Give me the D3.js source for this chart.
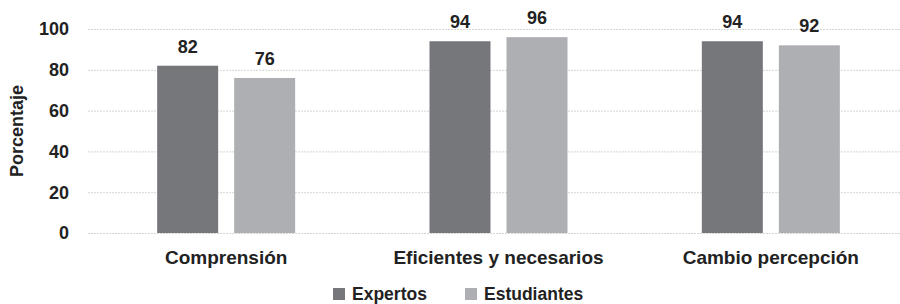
<!DOCTYPE html>
<html>
<head>
<meta charset="utf-8">
<script src="https://cdn.jsdelivr.net/npm/d3@7"></script>
<style>
  body { margin: 0; background: #fff; }
  text { font-family: "Liberation Sans", Arial, sans-serif; font-weight: bold; fill: #222; }
</style>
</head>
<body>
<div id="chart"></div>
<script>
// Chart data
const categories = ["Comprensión", "Eficientes y necesarios", "Cambio percepción"];
const seriesNames = ["Expertos", "Estudiantes"];
const expertos = [82, 94, 94];
const estudiantes = [76, 96, 92];
const yTicks = [0, 20, 40, 60, 80, 100];
const colors = ["#76777b", "#aeafb3"];

const width = 900, height = 304;
const margin = { top: 29, right: -7, bottom: 71, left: 90 };

const svg = d3.select("#chart").append("svg")
  .attr("width", width)
  .attr("height", height);

const x0 = d3.scaleBand()
  .domain(categories)
  .range([margin.left, width - margin.right])
  .padding(0);

const x1 = d3.scaleBand()
  .domain(seriesNames)
  .range([0, 138])
  .paddingInner(0.208);

const y = d3.scaleLinear()
  .domain([0, 100])
  .range([height - margin.bottom, margin.top]);

// Gridlines
svg.append("g")
  .selectAll("line")
  .data(yTicks)
  .enter()
  .append("line")
  .attr("x1", 88)
  .attr("x2", width)
  .attr("y1", d => y(d) + 0.5)
  .attr("y2", d => y(d) + 0.5)
  .attr("stroke", "#d4d4d4")
  .attr("stroke-width", 1)
  .attr("stroke-dasharray", "2,1");

// Y tick labels
svg.append("g")
  .selectAll("text")
  .data(yTicks)
  .enter()
  .append("text")
  .attr("x", 69)
  .attr("y", d => y(d))
  .attr("dy", "0.36em")
  .attr("text-anchor", "end")
  .attr("font-size", 18)
  .text(d => d);

// Y axis title
svg.append("text")
  .attr("transform", "translate(23,131) rotate(-90)")
  .attr("text-anchor", "middle")
  .attr("font-size", 18)
  .text("Porcentaje");

// Bars
const rows = categories.map((c, i) => ({ cat: c, values: [expertos[i], estudiantes[i]] }));

const groups = svg.append("g")
  .selectAll("g")
  .data(rows)
  .enter()
  .append("g")
  .attr("transform", d => `translate(${x0(d.cat) + x0.bandwidth() / 2 - 69},0)`);

groups.selectAll("rect")
  .data(d => d.values.map((v, j) => ({ name: seriesNames[j], value: v, j })))
  .enter()
  .append("rect")
  .attr("x", d => x1(d.name))
  .attr("y", d => y(d.value))
  .attr("width", x1.bandwidth())
  .attr("height", d => y(0) - y(d.value))
  .attr("fill", d => colors[d.j]);

groups.selectAll("text")
  .data(d => d.values.map((v, j) => ({ name: seriesNames[j], value: v })))
  .enter()
  .append("text")
  .attr("x", d => x1(d.name) + x1.bandwidth() / 2)
  .attr("y", d => y(d.value) - 13)
  .attr("text-anchor", "middle")
  .attr("font-size", 18)
  .text(d => d.value);

// Category labels
svg.append("g")
  .selectAll("text")
  .data(categories)
  .enter()
  .append("text")
  .attr("x", d => x0(d) + x0.bandwidth() / 2)
  .attr("y", 264)
  .attr("text-anchor", "middle")
  .attr("font-size", 19)
  .text(d => d);

// Legend
const legendX = [333, 465];
const legend = svg.append("g")
  .selectAll("g")
  .data(seriesNames)
  .enter()
  .append("g")
  .attr("transform", (d, i) => `translate(${legendX[i]},0)`);

legend.append("rect")
  .attr("x", 0)
  .attr("y", 288)
  .attr("width", 12)
  .attr("height", 12)
  .attr("fill", (d, i) => colors[i]);

legend.append("text")
  .attr("x", 19)
  .attr("y", 300)
  .attr("font-size", 17.5)
  .text(d => d);
</script>
</body>
</html>
